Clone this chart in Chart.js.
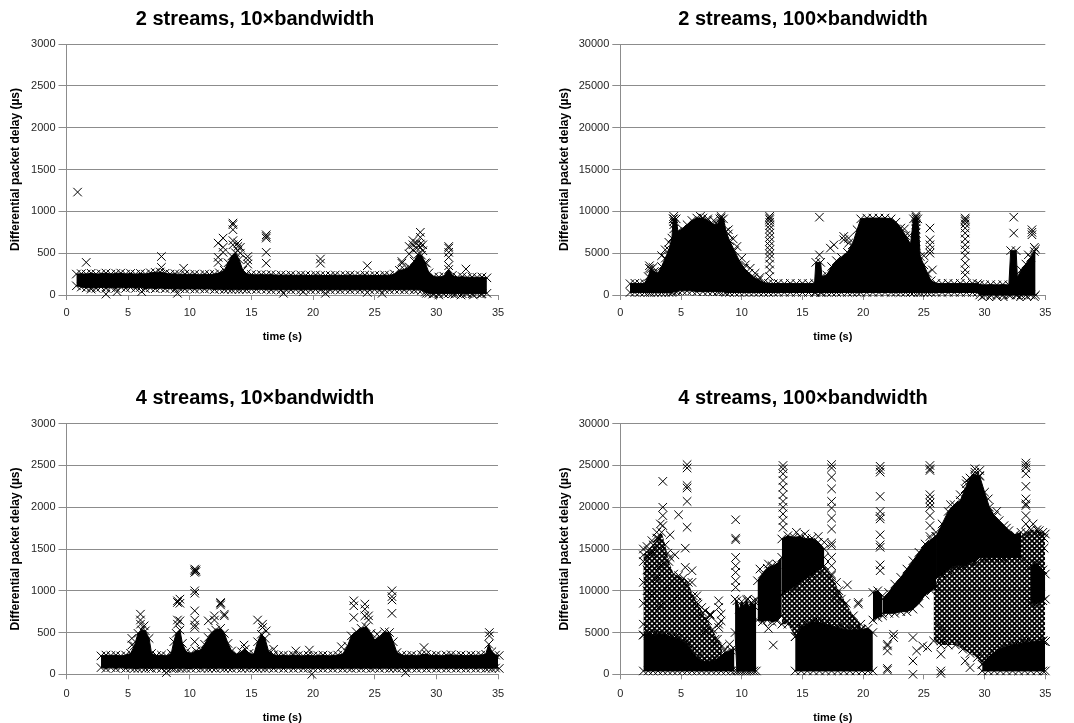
<!DOCTYPE html>
<html>
<head>
<meta charset="utf-8">
<title>Differential packet delay</title>
<script src="https://cdn.jsdelivr.net/npm/chart.js@4.4.1/dist/chart.umd.min.js"></script>
<style>
  html, body { margin: 0; padding: 0; background: #fff; }
  #wrap { position: relative; width: 1074px; height: 723px; }
  canvas { position: absolute; }
  #c1 { left: 0; top: 0; }
  #c2 { left: 537px; top: 0; }
  #c3 { left: 0; top: 361px; }
  #c4 { left: 537px; top: 361px; }
</style>
</head>
<body>
<div id="wrap">
  <canvas id="c1" width="537" height="361"></canvas>
  <canvas id="c2" width="537" height="361"></canvas>
  <canvas id="c3" width="537" height="362"></canvas>
  <canvas id="c4" width="537" height="362"></canvas>
</div>
<script>
const panelTitles = ['2 streams, 10×bandwidth', '2 streams, 100×bandwidth', '4 streams, 10×bandwidth', '4 streams, 100×bandwidth'];
const timeTicks = [0, 5, 10, 15, 20, 25, 30, 35];
const delayTicks10 = [0, 500, 1000, 1500, 2000, 2500, 3000];
const delayTicks100 = [0, 5000, 10000, 15000, 20000, 25000, 30000];

// dense clouds read as [time, lower edge, upper edge]
const p1Band = [
  [0.8,110,250],[1.2,95,255],[1.6,85,250],[2.0,90,260],[2.4,80,250],[2.8,95,255],[3.2,80,262],[3.6,90,250],
  [4.0,80,258],[4.4,95,262],[4.8,80,250],[5.2,90,258],[5.6,80,248],[6.0,90,258],[6.4,75,250],[6.8,85,265],
  [7.2,75,270],[7.6,85,275],[8.0,75,260],[8.4,80,250],[8.8,70,255],[9.2,75,245],[9.6,70,250],[10.0,75,245],
  [10.4,70,250],[10.8,75,240],[11.2,70,250],[11.6,75,245],[12.0,65,250],[12.4,70,265],[12.8,65,295],[13.1,70,385],
  [13.4,65,465],[13.7,70,505],[14.0,65,425],[14.3,70,295],[14.6,65,255],[15.0,70,245],[15.4,65,240],[15.8,70,245],
  [16.2,65,240],[16.6,60,245],[17.0,65,235],[17.4,60,240],[17.8,65,235],[18.2,60,240],[18.6,65,232],[19.0,60,240],
  [19.4,65,235],[19.8,60,232],[20.2,65,240],[20.6,60,235],[21.0,65,232],[21.4,60,235],[21.8,65,240],[22.2,60,232],
  [22.6,65,235],[23.0,60,240],[23.4,65,232],[23.8,60,235],[24.2,65,240],[24.6,60,232],[25.0,65,235],[25.4,60,232],
  [25.8,65,240],[26.2,60,235],[26.6,65,250],[27.0,65,295],[27.4,60,305],[27.8,65,335],[28.2,60,405],[28.5,65,485],
  [28.8,55,475],[29.1,35,385],[29.4,20,265],[29.8,15,220],[30.2,20,215],[30.6,15,225],[31.0,20,305],[31.3,15,235],
  [31.7,20,212],[32.1,15,220],[32.5,20,210],[32.9,15,215],[33.3,20,210],[33.7,15,215],[34.1,20,205]
];
// single packets read as [time, delay, delay, ...]
const p1Points = [
  [0.9,1230],[1.6,390,150],[2.0,70],[3.2,10],[4.1,40],[6.1,40],[7.7,460,330],[9.0,20],[9.5,320],
  [12.3,620,450,390],[12.7,680,570,510],[13.5,860,840,780,650,600],[13.9,620,580,530],[14.1,570,500],
  [14.7,460,420,370],[16.2,720,700,680,510,380],[17.6,20],[19.2,40],[20.6,430,380],[21.0,20],[24.4,350,30],
  [25.6,20],[27.2,400,380],[27.8,580,490],[28.1,650,600,540],[28.4,620,560],[28.7,750,690,610,570],[28.9,600,530],
  [29.2,380,20],[29.7,10],[30.2,0],[31.0,580,560,510,450,350],[31.5,10],[32.0,0],[32.4,310,20],[33.0,0],[33.6,10]
];

const p2Band = [
  [0.8,300,1350],[1.2,300,1400],[1.6,300,1350],[2.0,300,1400],[2.3,300,2200],[2.5,300,3100],[2.8,300,2800],
  [3.1,300,2600],[3.4,300,3400],[3.7,300,4400],[4.0,300,5400],[4.25,300,6800],[4.35,400,9100],[4.6,400,9100],
  [4.75,500,7600],[5.1,500,7900],[5.5,500,8400],[5.9,500,8900],[6.3,400,9200],[6.8,400,9200],[7.2,400,8900],
  [7.6,400,8500],[8.0,400,8400],[8.2,400,9100],[8.5,400,9100],[8.7,300,7600],[9.0,300,6500],[9.4,300,5300],
  [9.8,300,4100],[10.2,300,3200],[10.6,300,2600],[11.0,300,2100],[11.4,300,1800],[11.8,300,1500],[12.2,300,1400],
  [12.6,300,1350],[13.0,300,1400],[13.5,300,1350],[14.0,300,1400],[14.5,300,1350],[15.0,300,1400],[15.5,300,1350],
  [16.0,300,1400],[16.1,300,3900],[16.5,300,3900],[16.6,300,2200],[17.0,300,2400],[17.4,300,3400],[17.8,300,4100],
  [18.2,300,4500],[18.7,300,5100],[19.1,300,6000],[19.5,300,7800],[19.8,300,9100],[20.3,300,9200],[20.8,300,9200],
  [21.3,300,9200],[21.8,300,9200],[22.3,300,9100],[22.7,300,8700],[23.1,300,8000],[23.5,300,7100],[23.9,300,6100],
  [24.15,300,9100],[24.5,300,9100],[24.7,300,4600],[25.0,300,3600],[25.3,300,2600],[25.6,300,1700],[26.0,300,1400],
  [26.5,300,1350],[27.0,300,1400],[27.5,300,1350],[28.0,300,1400],[28.5,300,1350],[29.0,300,1400],[29.4,300,1350],
  [29.6,0,1250],[30.0,0,1200],[30.5,0,1250],[31.0,0,1200],[31.5,0,1250],[32.0,0,1200],[32.15,0,5300],[32.6,0,5300],
  [32.7,0,2100],[33.0,0,3000],[33.4,0,3700],[33.8,0,4500],[34.2,0,5500]
];
const p2Points = [
  [2.4,3500,3200],[2.7,3300],[3.4,4700],[3.7,5400],[4.0,6300],[4.4,9400,9100,8800,8400,7900],[6.6,9400],[7.2,9100],
  [7.7,8900,8300],[8.3,9400,9200,8900],[8.9,7800,7300],[9.3,6700],[9.6,5800],[10.0,4400],[10.3,3600],[10.7,3200],
  [11.1,2600],[11.5,2100],
  [12.3,9400,9200,9000,8700,8300,7900,7400,6900,6400,5900,5400,4900,4400,3700,3000,2200],
  [16.4,9300,4800],[17.3,5600],[17.6,6000],[18.4,7000,6600],[18.8,6800,6200],[19.3,5600],[23.4,7900],[23.8,7100],
  [24.35,9500,9300,9100,8800,8400,7900,7400,6900,6400,5900],[25.0,4700],[25.5,8000,6600,6000,5400,5000],[25.7,3000],
  [28.4,9200,9000,8800,8500,8000,7400,6700,6000,5400,4700,3800,3000,2400],
  [29.8,-200],[30.4,-300],[31.0,-200],[31.6,-300],[32.4,9300,7400],[32.9,-300],[33.5,-200],[33.6,4800],
  [33.9,7800,7500,7200],[34.1,5700,5200,-200]
];

const p3Band = [
  [2.8,80,220],[3.2,70,230],[3.6,80,225],[4.0,70,230],[4.4,80,220],[4.8,70,230],[5.2,75,250],[5.5,70,340],
  [5.8,70,490],[6.1,75,530],[6.4,70,520],[6.7,75,430],[6.9,70,250],[7.3,75,225],[7.7,70,230],[8.1,65,220],
  [8.5,70,250],[8.7,70,390],[8.9,75,490],[9.2,70,530],[9.4,75,370],[9.7,70,270],[10.1,70,250],[10.5,75,280],
  [10.9,70,290],[11.2,75,360],[11.5,70,440],[11.8,75,500],[12.1,70,530],[12.5,75,550],[12.8,70,490],[13.1,75,370],
  [13.4,70,280],[13.8,75,240],[14.2,70,270],[14.5,75,300],[14.8,70,250],[15.2,75,240],[15.5,70,390],[15.8,75,480],
  [16.1,70,430],[16.4,75,270],[16.8,70,235],[17.2,75,225],[17.6,70,230],[18.0,75,220],[18.4,70,230],[18.8,75,225],
  [19.2,70,220],[19.6,75,230],[20.0,70,220],[20.4,75,225],[20.8,70,230],[21.2,75,220],[21.6,70,225],[22.0,75,230],
  [22.4,70,240],[22.8,75,340],[23.1,70,460],[23.5,75,510],[23.9,70,550],[24.3,75,570],[24.7,70,490],[25.0,75,410],
  [25.4,70,450],[25.8,75,510],[26.2,70,500],[26.5,75,390],[26.8,70,260],[27.2,75,230],[27.6,70,225],[28.0,75,230],
  [28.4,70,220],[28.8,75,235],[29.2,70,240],[29.6,75,225],[30.0,70,230],[30.4,75,220],[30.8,70,230],[31.2,75,235],
  [31.6,70,225],[32.0,75,230],[32.4,70,220],[32.8,75,230],[33.2,70,225],[33.6,75,230],[34.0,70,240],[34.25,75,360],
  [34.5,70,270],[34.8,75,230],[35.1,70,225]
];
const p3Points = [
  [5.3,430,350],[6.0,720,650,600],[6.3,580],[8.1,20],[9.0,880,860,650,600],[9.2,900,850,640],
  [10.4,1260,1240,1220,1000,970,760,650,590,560,390],[10.5,1250,1230],[11.5,640],[12.0,700,650],[12.5,860,850,830],
  [12.8,720,700],[14.4,350],[15.5,650],[15.9,600,560],[16.2,520],[16.8,300],[18.6,280],[19.7,290],[19.9,0],[22.3,330],
  [23.3,880,820,680],[24.2,840,780,700],[24.5,700,650],[25.2,480],[26.4,1000,930,890,730],[27.5,20],[29.0,320],
  [34.3,500,460]
];

const p4Dense = [
  [[1.9,400,4700],[2.3,400,4900],[2.7,400,4600],[3.1,400,4800],[3.5,400,4700],[3.9,400,4600],[4.3,400,4400],
   [4.7,400,4300],[5.1,400,4000],[5.5,400,3600],[5.9,400,2800],[6.3,400,2000],[6.7,400,1600],[7.1,400,1500],
   [7.5,400,1600],[7.9,400,1700],[8.3,400,2200],[8.7,400,2600],[9.1,400,2900],[9.4,400,3000]],
  [[9.45,5000,9000],[9.6,400,8800],[9.8,400,7800],[10.0,400,8700],[10.2,400,8100],[10.4,400,8900],[10.6,400,8000],
   [10.8,400,8600],[11.0,400,8200],[11.2,400,8900]],
  [[11.3,6500,11200],[11.7,6300,12000],[12.1,6500,12700],[12.5,6300,13000],[12.9,6400,13200],[13.3,7000,14000]],
  [[13.3,9500,16200],[13.8,10000,16600],[14.3,10500,16400],[14.8,11000,16500],[15.3,11500,16200],[15.8,12000,16300],
   [16.3,12500,15800],[16.8,13000,15000]],
  [[14.4,400,4500],[14.9,400,5500],[15.4,400,6000],[15.9,400,6300],[16.4,400,6200],[16.9,400,6000],[17.4,400,5800],
   [17.9,400,5600],[18.4,400,5400],[18.9,400,5300],[19.4,400,5300],[19.9,400,5400],[20.4,400,5500],[20.8,400,5000]],
  [[20.8,6500,9800],[21.2,6800,10000],[21.6,7000,9400]],
  [[21.6,7300,9000],[22.1,7300,9800],[22.6,7300,10800],[23.1,7500,11600],[23.6,7500,12600],[24.1,7800,13600],
   [24.6,8500,14600],[25.1,9500,15600],[25.6,10000,16100],[26.0,10500,16500]],
  [[26.0,11500,16500],[26.5,12000,18000],[27.0,12500,19500],[27.5,13000,20300],[28.0,13000,20800],[28.4,13000,22200],
   [28.8,13500,23500],[29.2,13500,23900],[29.6,14000,23700],[30.0,14000,21800],[30.4,14000,20000],[30.8,14000,19000],
   [31.2,14000,18400],[31.6,14000,17800],[32.0,14000,17200],[32.5,14000,16700],[33.0,14000,17000]],
  [[29.8,400,1200],[30.3,400,2000],[30.8,400,2600],[31.3,400,3000],[31.8,400,3300],[32.3,400,3500],[32.8,400,3600],
   [33.3,400,3800],[33.8,400,3900],[34.3,400,4000],[34.8,400,4000],[35.0,400,3900]],
  [[33.8,8500,13000],[34.3,8500,13200],[34.8,8800,12500],[35.0,9000,12000]]
];
// looser clouds where single crosses overlap
const p4Mesh = [
  [[1.9,4700,14300],[2.3,4700,14800],[2.7,4700,15500],[3.1,4700,16300],[3.4,4700,17000],[3.7,4600,15500],
   [4.0,4500,13500],[4.4,4300,12000],[4.8,4200,11800],[5.2,4000,11500],[5.6,3600,11000],[6.0,2800,9400],
   [6.4,2000,8400],[6.8,1600,7400],[7.2,1500,6400],[7.6,1600,5400],[8.0,1700,4200],[8.4,2200,3400]],
  [[13.3,6000,9500],[13.8,6000,10000],[14.4,4500,10500],[15.0,5500,11200],[15.6,6000,12000],[16.2,6200,12500],
   [16.8,6000,13000],[17.4,5800,11800],[18.0,5600,10000],[18.6,5400,8500],[19.2,5300,7000],[19.8,5400,6000]],
  [[25.8,4000,10500],[26.4,3500,12000],[27.0,3500,12500],[27.6,3500,13000],[28.2,3000,13000],[28.8,2500,13500],
   [29.4,2000,13500],[29.8,1200,14000],[30.3,2000,14000],[30.8,2600,14000],[31.4,3000,14000],[32.0,3300,14500],
   [32.5,3500,15000],[33.0,3600,16500],[33.4,3800,17000],[33.8,3900,17300],[34.3,4000,17300],[34.8,4000,17000],
   [35.0,3900,16800]]
];
const p4Points = [
  [1.9,15000,13500,11000,8500,6000],[2.2,15300,12500,10000],[2.6,16000,14500,9500,7000],[3.0,16300,17000,11500],
  [3.3,18000,13000,8200],[3.5,23100,20000,19000,17800],[3.9,14500,10500],[4.1,16700,14000],[4.5,14300,9000],
  [4.8,19100],[5.35,15100,12800],[5.5,25100,24700,22600,22300,20700,17600],[5.9,12400,11000],[6.3,9400,8600],
  [6.7,8000],[7.0,7600,5200],[7.4,7000,7200,7100],[7.8,4200,3600],[8.1,8800,8000,6000,5600],[8.3,7200,6400],
  [8.6,2900],[9.0,3600],
  [9.5,18500,16300,16100,14000,13000,12200,11200,10400],[10.5,9000],[11.0,8800],[11.5,12600],[12.2,13200,5500],
  [12.6,3500],
  [13.4,25000,24600,24000,23200,22400,21500,20700,20000,19200,18400,17600],[14.5,17000],[15.2,16800],[16.3,16500],
  [16.8,15800,14000],
  [17.4,25100,24700,23600,22200,20700,19900,18700,17400,15700,15400,14000,13000,12000],[17.8,11000,9500],
  [18.2,9000],[18.7,10700],[19.6,8400,8600],
  [21.4,24900,24500,24200,21300,19500,18900,18600,16700,15500,15200,13100,12400],[22.0,3600,3400,2800,700,500],
  [22.5,4800,4400],[24.1,4400,1600,0],[24.4,2800],[24.9,3400],[25.3,3200],
  [25.5,25000,24600,24400,21500,21000,20500,20000,19000,17800,16500],[26.4,5600,4000,2400,400,100],
  [26.0,17000],[27.2,20300],[28.0,21500],[28.5,23200,22800],[29.2,24600,24200,23600],[29.6,24400,23800],
  [30.3,21000],[31.0,19500],[31.8,17500],[28.4,1600],[28.8,800],
  [33.4,25300,25000,24700,24000,22500,21000,20400,20200,19000,18000],[34.0,18000],[34.5,17200],[34.9,16300,15100]
];

// where each panel's plot sits inside its canvas
const frames = [
  { left: 12, right: 39, yWidth: 54.5, titleTop: 7.5, titleBottom: 12.5, xHeight: 66, xTickPad: 6, xTitlePad: 17.4, yTitlePad: -3.2 },
  { left: 23.7, right: 28.7, yWidth: 59.6, titleTop: 7.5, titleBottom: 12.5, xHeight: 66, xTickPad: 6, xTitlePad: 17.4, yTitlePad: -3.4 },
  { left: 12, right: 39, yWidth: 54.5, titleTop: 25, titleBottom: 13.7, xHeight: 48.7, xTickPad: 8.5, xTitlePad: -1.1, yTitlePad: -3.2 },
  { left: 23.7, right: 28.7, yWidth: 59.6, titleTop: 25, titleBottom: 13.7, xHeight: 48.7, xTickPad: 8.5, xTitlePad: -1.1, yTitlePad: -3.4 }
];

document.addEventListener('DOMContentLoaded', () => {
    Chart.defaults.font.family = 'Arial, "Liberation Sans", sans-serif';

    const gridGray = '#8c8c8c';

    // overlapping crosses look like a diagonal lattice
    const makeHatch = () => {
        const c = document.createElement('canvas');
        c.width = 5; c.height = 5;
        const g = c.getContext('2d');
        g.strokeStyle = '#000';
        g.lineWidth = 1.8;
        g.beginPath();
        g.moveTo(-1, -1); g.lineTo(6, 6);
        g.moveTo(6, -1); g.lineTo(-1, 6);
        g.stroke();
        return g.createPattern(c, 'repeat');
    };

    const toPoints = rows => {
        const out = [];
        rows.forEach(r => r.slice(1).forEach(y => out.push({ x: r[0], y: y })));
        return out;
    };

    const bandSets = (bands, fillStyle, edge, order) => {
        const sets = [];
        bands.forEach(rows => {
            const common = {
                type: 'line', order: order, tension: 0, clip: 6,
                borderColor: edge, borderWidth: 1,
                pointStyle: 'crossRot', pointRadius: 6, pointBorderColor: '#000', pointBorderWidth: 1,
                pointBackgroundColor: 'rgba(0,0,0,0)'
            };
            sets.push(Object.assign({}, common, { data: rows.map(r => ({ x: r[0], y: r[1] })), fill: false }));
            sets.push(Object.assign({}, common, { data: rows.map(r => ({ x: r[0], y: r[2] })), fill: '-1', backgroundColor: fillStyle }));
        });
        return sets;
    };

    const panels = [
        { id: 'c1', title: panelTitles[0], yTicks: delayTicks10, dense: [p1Band], mesh: [], points: p1Points },
        { id: 'c2', title: panelTitles[1], yTicks: delayTicks100, dense: [p2Band], mesh: [], points: p2Points },
        { id: 'c3', title: panelTitles[2], yTicks: delayTicks10, dense: [p3Band], mesh: [], points: p3Points },
        { id: 'c4', title: panelTitles[3], yTicks: delayTicks100, dense: p4Dense, mesh: p4Mesh, points: p4Points }
    ];

    panels.forEach((p, i) => {
        const f = frames[i];
        const datasets = []
            .concat(bandSets(p.mesh, makeHatch(), 'rgba(0,0,0,0)', 2))
            .concat(bandSets(p.dense, '#000', '#000', 1));
        datasets.push({
            type: 'scatter', order: 0, clip: 6,
            data: toPoints(p.points),
            pointStyle: 'crossRot', pointRadius: 6,
            borderColor: '#000', borderWidth: 1, backgroundColor: 'rgba(0,0,0,0)'
        });

        new Chart(document.getElementById(p.id).getContext('2d'), {
            type: 'scatter',
            data: { datasets: datasets },
            options: {
                responsive: false,
                animation: false,
                devicePixelRatio: 1,
                layout: { padding: { left: f.left, right: f.right, top: 0, bottom: 0 } },
                plugins: {
                    legend: { display: false },
                    tooltip: { enabled: false },
                    title: {
                        display: true, text: p.title, color: '#000',
                        font: { size: 20, weight: 'bold' },
                        padding: { top: f.titleTop, bottom: f.titleBottom }
                    }
                },
                scales: {
                    x: {
                        type: 'linear', min: 0, max: 35,
                        afterBuildTicks: s => { s.ticks = timeTicks.map(v => ({ value: v })); },
                        afterFit: s => { s.height = f.xHeight; },
                        grid: { drawOnChartArea: false, drawTicks: true, tickLength: 5, color: gridGray },
                        border: { color: gridGray },
                        ticks: { padding: f.xTickPad, color: '#262626', font: { size: 11 }, callback: v => String(v) },
                        title: {
                            display: true, text: 'time (s)', color: '#000',
                            font: { size: 11, weight: 'bold' },
                            padding: { top: 0, bottom: f.xTitlePad }
                        }
                    },
                    y: {
                        type: 'linear', min: 0, max: p.yTicks[p.yTicks.length - 1],
                        afterBuildTicks: s => { s.ticks = p.yTicks.map(v => ({ value: v })); },
                        afterFit: s => { s.width = f.yWidth; },
                        grid: { color: gridGray, tickLength: 8 },
                        border: { color: gridGray },
                        ticks: { padding: 3, color: '#262626', font: { size: 11 }, callback: v => String(v) },
                        title: {
                            display: true, text: 'Differential packet delay (µs)', color: '#000',
                            font: { size: 12, weight: 'bold' },
                            padding: { top: f.yTitlePad, bottom: 0 }
                        }
                    }
                }
            }
        });
    });
});
</script>
</body>
</html>
